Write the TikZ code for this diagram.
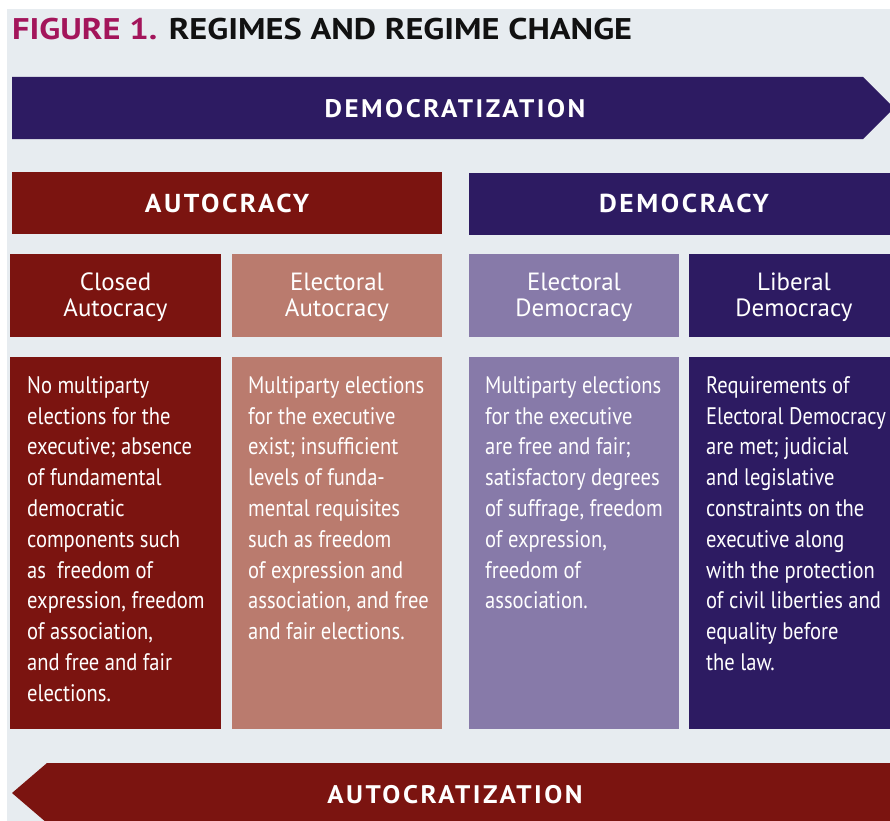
\documentclass[tikz,border=0pt]{standalone}
\usepackage{fontspec}
\setmainfont{PT Sans}
\newfontfamily\condfont[FakeStretch=0.86]{PT Sans}
\newfontfamily\headfont[LetterSpace=10,FakeStretch=1.06]{PT Sans}
\newfontfamily\titlefont[FakeStretch=1.15]{PT Sans}
\definecolor{navy}{HTML}{2D1B62}
\definecolor{darkred}{HTML}{7B1410}
\definecolor{salmon}{HTML}{BA7B6E}
\definecolor{lilac}{HTML}{877AA9}
\definecolor{bggray}{HTML}{E7ECF0}
\definecolor{titlered}{HTML}{A3155B}
\definecolor{titleblack}{HTML}{111111}
\tikzset{
  headbox/.style={inner sep=0, minimum width=430bp, minimum height=62bp, text=white,
    font=\headfont\bfseries\fontsize{26}{30}\selectfont},
  subbox/.style={inner sep=0, minimum width=210bp, minimum height=83bp, text=white, align=center,
    font=\fontsize{25}{26}\selectfont},
  descbox/.style={inner sep=0, minimum width=210bp, minimum height=372bp},
  desctext/.style={inner sep=0, anchor=base west, text=white},
  arrowtext/.style={inner sep=0, text=white, font=\headfont\bfseries\fontsize{25.5}{30}\selectfont}
}
\newcommand{\desc}[1]{\parbox[t]{190bp}{\raggedright\condfont\fontsize{24}{30.9}\selectfont #1}}
\begin{document}
\begin{tikzpicture}[x=1bp,y=-1bp]
\useasboundingbox (0,0) rectangle (890,821);
\clip (0,0) rectangle (890,821);
\fill[bggray] (7,9) rectangle (890,821);
% title
\node[inner sep=0, anchor=base west, text=titleblack, font=\titlefont\bfseries\fontsize{30}{36}\selectfont] (title) at (12,40)
  {\textcolor{titlered}{FIGURE 1.} REGIMES AND REGIME CHANGE};
% democratization arrow
\fill[navy] (12,77) -- (863,77) -- (894,108) -- (863,139) -- (12,139) -- cycle;
\node[arrowtext] (demz) at (455,109) {DEMOCRATIZATION};
% autocratization arrow
\fill[darkred] (12,793) -- (47,763) -- (900,763) -- (900,823) -- (47,823) -- cycle;
\node[arrowtext] (autz) at (455,795) {AUTOCRATIZATION};
% headers
\node[headbox, fill=darkred] (autohead) at (227,203) {AUTOCRACY};
\node[headbox, fill=navy] (demohead) at (684,203.5) {DEMOCRACY};
% sub headers
\node[subbox, fill=darkred] (closed) at (115.5,295.5) {};
\node[subbox, fill=salmon] (elecaut) at (337,295.5) {};
\node[subbox, fill=lilac] (elecdem) at (574,295.5) {};
\node[subbox, fill=navy] (libdem) at (794,295.5) {};
\node[subbox, minimum width=0, minimum height=0] (closedlbl) at (115.5,297.5) {Closed\\Autocracy};
\node[subbox, minimum width=0, minimum height=0] (elecautlbl) at (337,297.5) {Electoral\\Autocracy};
\node[subbox, minimum width=0, minimum height=0] (elecdemlbl) at (574,297.5) {Electoral\\Democracy};
\node[subbox, minimum width=0, minimum height=0] (libdemlbl) at (794,297.5) {Liberal\\Democracy};
% description boxes
\node[descbox, fill=darkred] (closedbox) at (115.5,543) {};
\node[descbox, fill=salmon] (elecautbox) at (337,543) {};
\node[descbox, fill=lilac] (elecdembox) at (574,543) {};
\node[descbox, fill=navy] (libdembox) at (794,543) {};
\node[desctext] (closedtxt) at (27,393.3) {\desc{No multiparty\\elections for the\\executive; absence\\of fundamental\\democratic\\components such\\as\ \ freedom of\\expression, freedom\\of association,\\and free and fair\\elections.}};
\node[desctext] (elecauttxt) at (248,393.3) {\desc{Multiparty elections\\for the executive\\exist; insufficient\\levels of funda-\\mental requisites\\such as freedom\\of expression and\\association, and free\\and fair elections.}};
\node[desctext] (elecdemtxt) at (485,393.3) {\desc{Multiparty elections\\for the executive\\are free and fair;\\satisfactory degrees\\of suffrage, freedom\\of expression,\\freedom of\\association.}};
\node[desctext] (libdemtxt) at (706,393.3) {\desc{Requirements of\\Electoral Democracy\\are met; judicial\\and legislative\\constraints on the\\executive along\\with the protection\\of civil liberties and\\equality before\\the law.}};
\end{tikzpicture}
\end{document}
